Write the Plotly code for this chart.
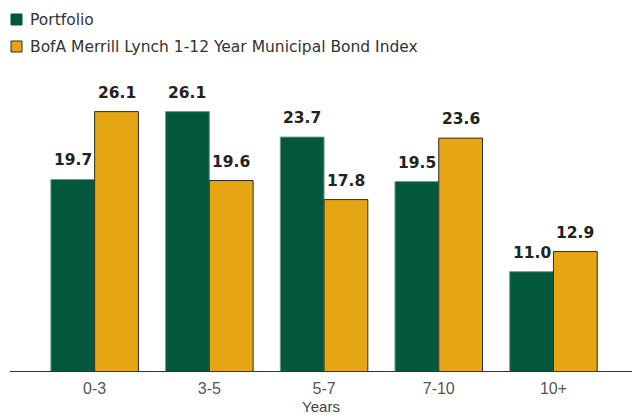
import plotly.graph_objects as go

# Maturity buckets and allocation percentages
categories = ["0-3", "3-5", "5-7", "7-10", "10+"]
portfolio = [19.7, 26.1, 23.7, 19.5, 11.0]
index_vals = [26.1, 19.6, 17.8, 23.6, 12.9]
series_names = ["Portfolio", "BofA Merrill Lynch 1-12 Year Municipal Bond Index"]
x_title = "Years"

GREEN = "#02573d"
GOLD = "#e6a614"
W, H = 632, 415
ML, MR, MT, MB = 10, 0, 60, 44
PW, PH = W - ML - MR, H - MT - MB

BARGAP = 0.237
half = (1 - BARGAP) / 4  # centre offset of each bar in a pair

fig = go.Figure()
fig.add_trace(go.Bar(
    x=categories, y=portfolio, name=series_names[0],
    marker=dict(color=GREEN, line=dict(color="#6f9d8a", width=1)),
    showlegend=False,
))
fig.add_trace(go.Bar(
    x=categories, y=index_vals, name=series_names[1],
    marker=dict(color=GOLD, line=dict(color="#2b2b2b", width=1)),
    showlegend=False,
))

# value labels above each bar
annotations = []
for i, (p, b) in enumerate(zip(portfolio, index_vals)):
    for off, v in ((-half, p), (half, b)):
        annotations.append(dict(
            x=i + off, y=v, xref="x", yref="y", text=f"{v:.1f}",
            showarrow=False, yanchor="bottom", yshift=8,
            font=dict(family="DejaVu Sans", size=15.5, color="#222222", weight="bold"),
        ))

# legend drawn as swatches + text, positioned in pixels
def px_x(px):
    return (px - ML) / PW

def px_y(py):
    return (H - MB - py) / PH

shapes = []
legend_rows = [(GREEN, "#02573d", 14, series_names[0]), (GOLD, "#2b2b2b", 41, series_names[1])]
for fill, edge, top, label in legend_rows:
    shapes.append(dict(
        type="rect", xref="paper", yref="paper",
        x0=px_x(11), x1=px_x(22), y0=px_y(top + 11), y1=px_y(top),
        fillcolor=fill, line=dict(color=edge, width=1),
    ))
    annotations.append(dict(
        x=px_x(28), y=px_y(top + 5.5), xref="paper", yref="paper",
        text=label, showarrow=False, xanchor="left", yanchor="middle",
        font=dict(family="DejaVu Sans", size=15.5, color="#333333"),
    ))

y0 = 1.63
k = 10.6
fig.update_layout(
    width=W, height=H,
    margin=dict(l=ML, r=MR, t=MT, b=MB),
    paper_bgcolor="white", plot_bgcolor="white",
    barmode="group", bargap=BARGAP, bargroupgap=0,
    xaxis=dict(
        type="category", range=[-0.738, -0.738 + PW / 114.7],
        showline=True, linecolor="#333333", linewidth=1,
        ticks="", showgrid=False, zeroline=False, automargin=False,
        ticklabelstandoff=3,
        tickfont=dict(family="Liberation Sans", size=16, color="#555555"),
        title=dict(text=x_title, standoff=12,
                   font=dict(family="Liberation Sans", size=15, color="#444444")),
    ),
    yaxis=dict(
        range=[y0, y0 + PH / k], visible=False, showgrid=False, zeroline=False,
    ),
    annotations=annotations,
    shapes=shapes,
)

fig.write_html("out.html")
